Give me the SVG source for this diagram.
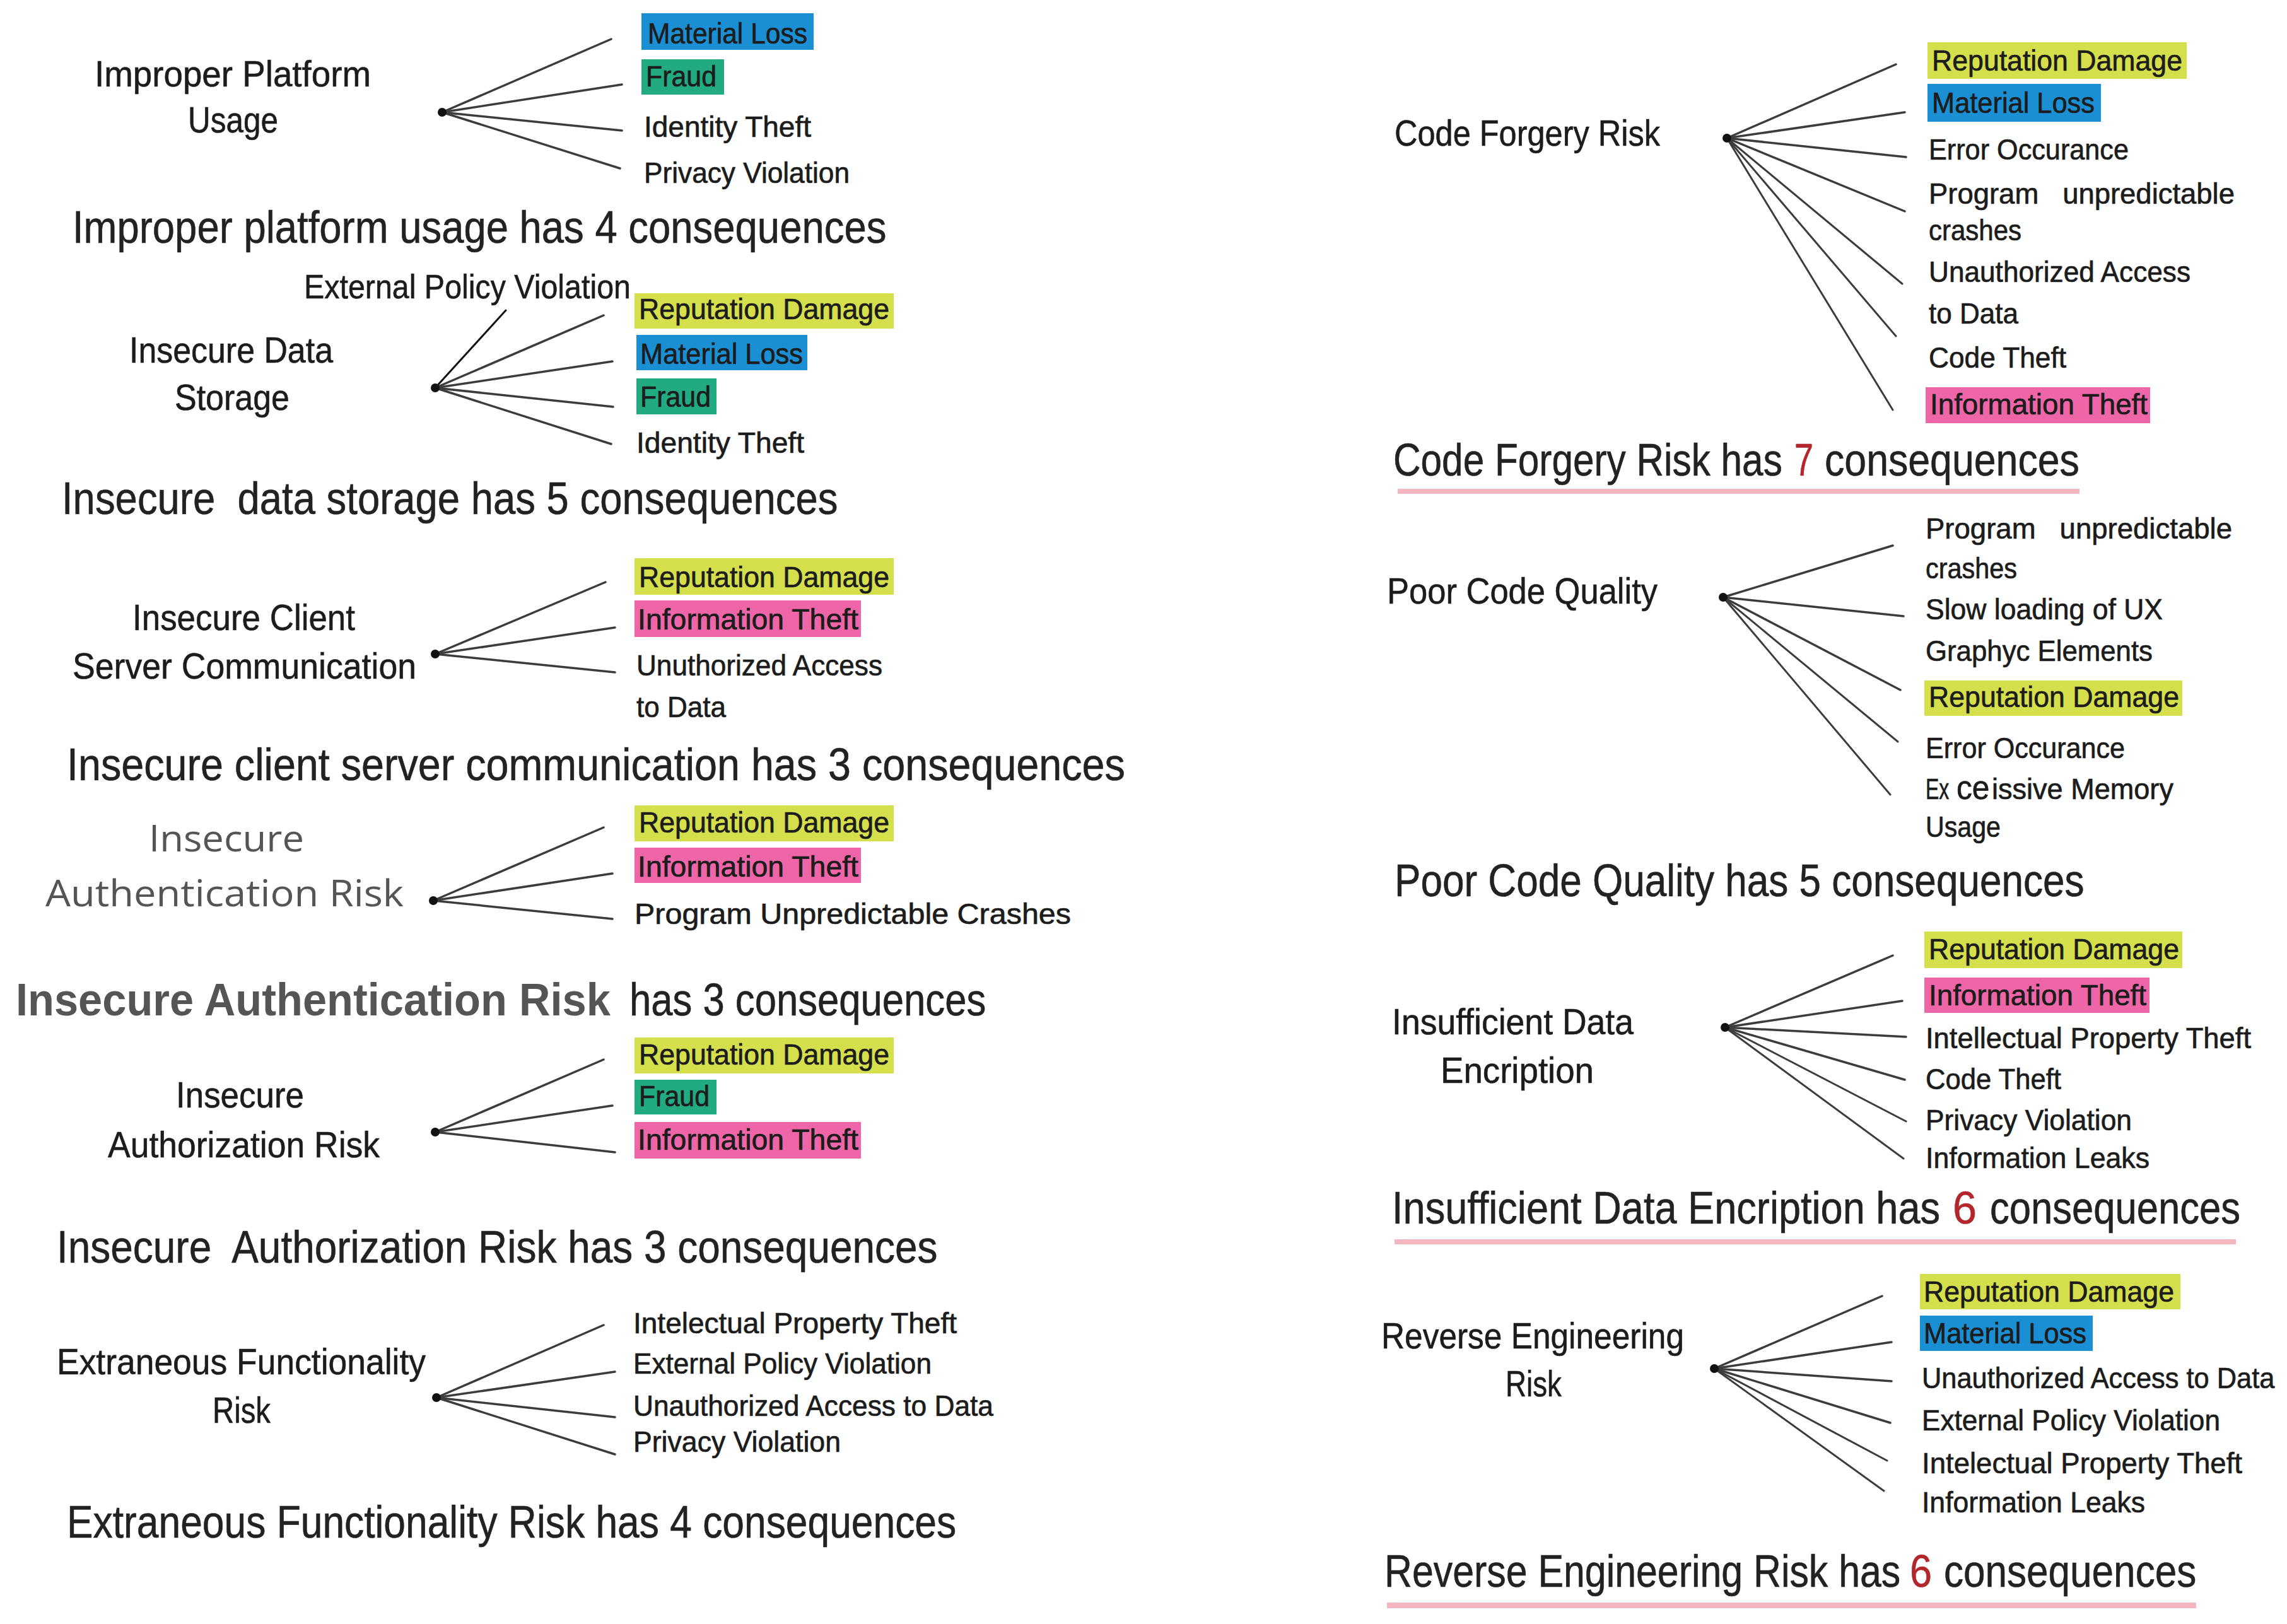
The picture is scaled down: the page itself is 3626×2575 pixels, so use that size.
<svg xmlns="http://www.w3.org/2000/svg" width="3626" height="2575" viewBox="0 0 3626 2575">
<style>
.lbl{font-family:"Liberation Sans",Arial,sans-serif;font-size:47px;fill:#1c1c1c;stroke:#1c1c1c;stroke-width:0.7}
.ttl{font-family:"Liberation Sans",Arial,sans-serif;font-size:58px;fill:#1c1c1c;stroke:#1c1c1c;stroke-width:0.6}
.ext{font-family:"Liberation Sans",Arial,sans-serif;font-size:54px;fill:#1c1c1c;stroke:#1c1c1c;stroke-width:0.6}
.cap{font-family:"Liberation Sans",Arial,sans-serif;font-size:72px;fill:#222;stroke:#222;stroke-width:0.6}
.gry{font-family:"Open Sans","Liberation Sans",sans-serif;font-size:58px;fill:#555}
.red{fill:#b3262b;stroke:#b3262b}
.bold{font-weight:bold;fill:#555;stroke:none}
.yel{fill:#d5df4c}
.blu{fill:#1a8fd4}
.grn{fill:#22aa80}
.pnk{fill:#ef66a8}
.ul{fill:#f4b7c2}
.hub{fill:#111}
#connectors line{stroke:#3c3c3c;stroke-width:3.5;stroke-linecap:round}
</style>
<rect width="3626" height="2575" fill="#fff"/>

<g id="connectors">
  <line x1="701" y1="178" x2="969" y2="62"/>
  <line x1="701" y1="178" x2="986" y2="134"/>
  <line x1="701" y1="178" x2="986" y2="207"/>
  <line x1="701" y1="178" x2="983" y2="267"/>
  <line x1="690" y1="615" x2="802" y2="492" style="stroke:#111;stroke-width:3"/>
  <line x1="690" y1="615" x2="957" y2="500"/>
  <line x1="690" y1="615" x2="971" y2="573"/>
  <line x1="690" y1="615" x2="972" y2="645"/>
  <line x1="690" y1="615" x2="969" y2="704"/>
  <line x1="690" y1="1037" x2="960" y2="923"/>
  <line x1="690" y1="1037" x2="975" y2="995"/>
  <line x1="690" y1="1037" x2="975" y2="1066"/>
  <line x1="687" y1="1428" x2="957" y2="1312"/>
  <line x1="687" y1="1428" x2="971" y2="1385"/>
  <line x1="687" y1="1428" x2="971" y2="1457"/>
  <line x1="690" y1="1795" x2="957" y2="1680"/>
  <line x1="690" y1="1795" x2="971" y2="1753"/>
  <line x1="690" y1="1795" x2="975" y2="1827"/>
  <line x1="692" y1="2216" x2="957" y2="2101"/>
  <line x1="692" y1="2216" x2="975" y2="2175"/>
  <line x1="692" y1="2216" x2="975" y2="2247"/>
  <line x1="692" y1="2216" x2="975" y2="2306"/>
  <line x1="2738" y1="219" x2="3006" y2="102"/>
  <line x1="2738" y1="219" x2="3020" y2="178"/>
  <line x1="2738" y1="219" x2="3022" y2="249"/>
  <line x1="2738" y1="219" x2="3020" y2="335"/>
  <line x1="2738" y1="219" x2="3016" y2="450" style="stroke-width:3"/>
  <line x1="2738" y1="219" x2="3006" y2="533" style="stroke-width:3"/>
  <line x1="2738" y1="219" x2="3001" y2="650" style="stroke-width:3"/>
  <line x1="2732" y1="947" x2="3001" y2="865"/>
  <line x1="2732" y1="947" x2="3018" y2="977"/>
  <line x1="2732" y1="947" x2="3013" y2="1094"/>
  <line x1="2732" y1="947" x2="3009" y2="1176" style="stroke-width:3"/>
  <line x1="2732" y1="947" x2="2997" y2="1260" style="stroke-width:3"/>
  <line x1="2735" y1="1629" x2="3001" y2="1515"/>
  <line x1="2735" y1="1629" x2="3016" y2="1587"/>
  <line x1="2735" y1="1629" x2="3022" y2="1644"/>
  <line x1="2735" y1="1629" x2="3020" y2="1712"/>
  <line x1="2735" y1="1629" x2="3022" y2="1778" style="stroke-width:3"/>
  <line x1="2735" y1="1629" x2="3018" y2="1837" style="stroke-width:3"/>
  <line x1="2718" y1="2170" x2="2984" y2="2055"/>
  <line x1="2718" y1="2170" x2="2999" y2="2128"/>
  <line x1="2718" y1="2170" x2="2999" y2="2190"/>
  <line x1="2718" y1="2170" x2="2997" y2="2256"/>
  <line x1="2718" y1="2170" x2="2992" y2="2316" style="stroke-width:3"/>
  <line x1="2718" y1="2170" x2="2987" y2="2364" style="stroke-width:3"/>
</g>

<g id="risk-improper-platform-usage">
  <text class="ttl" x="150" y="137" textLength="438" lengthAdjust="spacingAndGlyphs">Improper Platform</text>
  <text class="ttl" x="298" y="210" textLength="143" lengthAdjust="spacingAndGlyphs">Usage</text>
  <circle class="hub" cx="701" cy="178" r="7"/>
</g>
<g id="c1-material-loss"><rect class="blu" x="1017" y="21" width="273" height="58"/><text class="lbl" x="1027" y="69" textLength="253" lengthAdjust="spacingAndGlyphs">Material Loss</text></g>
<g id="c1-fraud"><rect class="grn" x="1017" y="94" width="131" height="56"/><text class="lbl" x="1024" y="137" textLength="112" lengthAdjust="spacingAndGlyphs">Fraud</text></g>
<g id="c1-identity-theft"><text class="lbl" x="1021" y="217" textLength="265" lengthAdjust="spacingAndGlyphs">Identity Theft</text></g>
<g id="c1-privacy-violation"><text class="lbl" x="1021" y="290" textLength="326" lengthAdjust="spacingAndGlyphs">Privacy Violation</text></g>
<g id="caption-1"><text class="cap" transform="translate(115,385) scale(0.881,1)">Improper platform usage has 4 consequences</text></g>

<g id="risk-insecure-data-storage">
  <text class="ttl" x="205" y="575" textLength="323" lengthAdjust="spacingAndGlyphs">Insecure Data</text>
  <text class="ttl" x="277" y="650" textLength="182" lengthAdjust="spacingAndGlyphs">Storage</text>
  <circle class="hub" cx="690" cy="615" r="7"/>
</g>
<g id="c2-external-policy-violation"><text class="ext" transform="translate(482,473) scale(0.896,1)">External Policy Violation</text></g>
<g id="c2-reputation-damage"><rect class="yel" x="1006" y="465" width="411" height="56"/><text class="lbl" x="1013" y="506" textLength="397" lengthAdjust="spacingAndGlyphs">Reputation Damage</text></g>
<g id="c2-material-loss"><rect class="blu" x="1009" y="531" width="271" height="56"/><text class="lbl" x="1015" y="577" textLength="258" lengthAdjust="spacingAndGlyphs">Material Loss</text></g>
<g id="c2-fraud"><rect class="grn" x="1009" y="600" width="127" height="57"/><text class="lbl" x="1015" y="645" textLength="112" lengthAdjust="spacingAndGlyphs">Fraud</text></g>
<g id="c2-identity-theft"><text class="lbl" x="1009" y="718" textLength="266" lengthAdjust="spacingAndGlyphs">Identity Theft</text></g>
<g id="caption-2"><text class="cap" transform="translate(98,815) scale(0.881,1)" xml:space="preserve">Insecure  data storage has 5 consequences</text></g>

<g id="risk-insecure-client-server">
  <text class="ttl" x="210" y="999" textLength="353" lengthAdjust="spacingAndGlyphs">Insecure Client</text>
  <text class="ttl" x="115" y="1076" textLength="545" lengthAdjust="spacingAndGlyphs">Server Communication</text>
  <circle class="hub" cx="690" cy="1037" r="7"/>
</g>
<g id="c3-reputation-damage"><rect class="yel" x="1006" y="885" width="411" height="58"/><text class="lbl" x="1013" y="931" textLength="397" lengthAdjust="spacingAndGlyphs">Reputation Damage</text></g>
<g id="c3-information-theft"><rect class="pnk" x="1006" y="952" width="359" height="58"/><text class="lbl" x="1011" y="998" textLength="350" lengthAdjust="spacingAndGlyphs">Information Theft</text></g>
<g id="c3-unauthorized-access">
  <text class="lbl" x="1009" y="1071" textLength="390" lengthAdjust="spacingAndGlyphs">Unuthorized Access</text>
  <text class="lbl" x="1009" y="1137" textLength="142" lengthAdjust="spacingAndGlyphs">to Data</text>
</g>
<g id="caption-3"><text class="cap" transform="translate(106,1237) scale(0.898,1)">Insecure client server communication has 3 consequences</text></g>

<g id="risk-insecure-authentication">
  <text class="gry" x="236" y="1350" textLength="246" lengthAdjust="spacingAndGlyphs">Insecure</text>
  <text class="gry" x="72" y="1437" textLength="568" lengthAdjust="spacingAndGlyphs">Authentication Risk</text>
  <circle class="hub" cx="687" cy="1428" r="7"/>
</g>
<g id="c4-reputation-damage"><rect class="yel" x="1006" y="1277" width="411" height="57"/><text class="lbl" x="1013" y="1320" textLength="397" lengthAdjust="spacingAndGlyphs">Reputation Damage</text></g>
<g id="c4-information-theft"><rect class="pnk" x="1006" y="1344" width="359" height="56"/><text class="lbl" x="1011" y="1390" textLength="350" lengthAdjust="spacingAndGlyphs">Information Theft</text></g>
<g id="c4-program-crashes"><text class="lbl" x="1006" y="1465" textLength="692" lengthAdjust="spacingAndGlyphs">Program Unpredictable Crashes</text></g>
<g id="caption-4">
  <text class="cap bold" transform="translate(25,1610) scale(0.953,1)">Insecure Authentication Risk</text>
  <text class="cap" transform="translate(998,1610) scale(0.856,1)">has 3 consequences</text>
</g>

<g id="risk-insecure-authorization">
  <text class="ttl" x="279" y="1756" textLength="203" lengthAdjust="spacingAndGlyphs">Insecure</text>
  <text class="ttl" x="171" y="1835" textLength="431" lengthAdjust="spacingAndGlyphs">Authorization Risk</text>
  <circle class="hub" cx="690" cy="1795" r="7"/>
</g>
<g id="c5-reputation-damage"><rect class="yel" x="1006" y="1645" width="411" height="57"/><text class="lbl" x="1013" y="1688" textLength="397" lengthAdjust="spacingAndGlyphs">Reputation Damage</text></g>
<g id="c5-fraud"><rect class="grn" x="1006" y="1712" width="130" height="55"/><text class="lbl" x="1013" y="1754" textLength="112" lengthAdjust="spacingAndGlyphs">Fraud</text></g>
<g id="c5-information-theft"><rect class="pnk" x="1006" y="1779" width="359" height="58"/><text class="lbl" x="1011" y="1823" textLength="350" lengthAdjust="spacingAndGlyphs">Information Theft</text></g>
<g id="caption-5"><text class="cap" transform="translate(90,2002) scale(0.888,1)" xml:space="preserve">Insecure  Authorization Risk has 3 consequences</text></g>

<g id="risk-extraneous-functionality">
  <text class="ttl" x="90" y="2179" textLength="585" lengthAdjust="spacingAndGlyphs">Extraneous Functionality</text>
  <text class="ttl" x="337" y="2256" textLength="92" lengthAdjust="spacingAndGlyphs">Risk</text>
  <circle class="hub" cx="692" cy="2216" r="7"/>
</g>
<g id="c6-ip-theft"><text class="lbl" x="1004" y="2114" textLength="513" lengthAdjust="spacingAndGlyphs">Intelectual Property Theft</text></g>
<g id="c6-external-policy"><text class="lbl" x="1004" y="2178" textLength="473" lengthAdjust="spacingAndGlyphs">External Policy Violation</text></g>
<g id="c6-unauthorized-access"><text class="lbl" x="1004" y="2245" textLength="571" lengthAdjust="spacingAndGlyphs">Unauthorized Access to Data</text></g>
<g id="c6-privacy-violation"><text class="lbl" x="1004" y="2302" textLength="329" lengthAdjust="spacingAndGlyphs">Privacy Violation</text></g>
<g id="caption-6"><text class="cap" transform="translate(106,2438) scale(0.866,1)">Extraneous Functionality Risk has 4 consequences</text></g>

<g id="risk-code-forgery">
  <text class="ttl" x="2211" y="231" textLength="421" lengthAdjust="spacingAndGlyphs">Code Forgery Risk</text>
  <circle class="hub" cx="2738" cy="219" r="7"/>
</g>
<g id="c7-reputation-damage"><rect class="yel" x="3056" y="67" width="411" height="58"/><text class="lbl" x="3063" y="112" textLength="397" lengthAdjust="spacingAndGlyphs">Reputation Damage</text></g>
<g id="c7-material-loss"><rect class="blu" x="3056" y="133" width="275" height="60"/><text class="lbl" x="3063" y="179" textLength="258" lengthAdjust="spacingAndGlyphs">Material Loss</text></g>
<g id="c7-error-occurance"><text class="lbl" x="3058" y="253" textLength="317" lengthAdjust="spacingAndGlyphs">Error Occurance</text></g>
<g id="c7-program-crashes">
  <text class="lbl" x="3058" y="323" textLength="485" lengthAdjust="spacingAndGlyphs" xml:space="preserve">Program   unpredictable</text>
  <text class="lbl" x="3058" y="381" textLength="147" lengthAdjust="spacingAndGlyphs">crashes</text>
</g>
<g id="c7-unauthorized-access">
  <text class="lbl" x="3058" y="447" textLength="415" lengthAdjust="spacingAndGlyphs">Unauthorized Access</text>
  <text class="lbl" x="3058" y="513" textLength="142" lengthAdjust="spacingAndGlyphs">to Data</text>
</g>
<g id="c7-code-theft"><text class="lbl" x="3058" y="583" textLength="218" lengthAdjust="spacingAndGlyphs">Code Theft</text></g>
<g id="c7-information-theft"><rect class="pnk" x="3053" y="614" width="356" height="57"/><text class="lbl" x="3060" y="657" textLength="345" lengthAdjust="spacingAndGlyphs">Information Theft</text></g>
<g id="caption-7">
  <text class="cap" transform="translate(2209,754) scale(0.838,1)">Code Forgery Risk has</text>
  <text class="cap red" transform="translate(2845,754) scale(0.75,1)">7</text>
  <text class="cap" transform="translate(2893,754) scale(0.870,1)">consequences</text>
  <rect class="ul" x="2216" y="775" width="1081" height="8"/>
</g>

<g id="risk-poor-code-quality">
  <text class="ttl" x="2199" y="957" textLength="429" lengthAdjust="spacingAndGlyphs">Poor Code Quality</text>
  <circle class="hub" cx="2732" cy="947" r="7"/>
</g>
<g id="c8-program-crashes">
  <text class="lbl" x="3053" y="854" textLength="486" lengthAdjust="spacingAndGlyphs" xml:space="preserve">Program   unpredictable</text>
  <text class="lbl" x="3053" y="917" textLength="145" lengthAdjust="spacingAndGlyphs">crashes</text>
</g>
<g id="c8-slow-loading">
  <text class="lbl" x="3053" y="982" textLength="376" lengthAdjust="spacingAndGlyphs">Slow loading of UX</text>
  <text class="lbl" x="3053" y="1048" textLength="360" lengthAdjust="spacingAndGlyphs">Graphyc Elements</text>
</g>
<g id="c8-reputation-damage"><rect class="yel" x="3051" y="1079" width="409" height="56"/><text class="lbl" x="3058" y="1121" textLength="397" lengthAdjust="spacingAndGlyphs">Reputation Damage</text></g>
<g id="c8-error-occurance"><text class="lbl" x="3053" y="1202" textLength="316" lengthAdjust="spacingAndGlyphs">Error Occurance</text></g>
<g id="c8-excessive-memory">
  <text class="lbl" transform="translate(3053,1267) scale(0.68,1)">Ex</text>
  <text class="lbl" transform="translate(3102,1267) scale(0.92,1)" style="font-size:54px">ce</text>
  <text class="lbl" transform="translate(3158,1267) scale(0.959,1)">issive Memory</text>
  <text class="lbl" x="3053" y="1327" textLength="119" lengthAdjust="spacingAndGlyphs">Usage</text>
</g>
<g id="caption-8"><text class="cap" transform="translate(2211,1421) scale(0.862,1)">Poor Code Quality has 5 consequences</text></g>

<g id="risk-insufficient-encryption">
  <text class="ttl" x="2207" y="1640" textLength="383" lengthAdjust="spacingAndGlyphs">Insufficient Data</text>
  <text class="ttl" x="2284" y="1717" textLength="243" lengthAdjust="spacingAndGlyphs">Encription</text>
  <circle class="hub" cx="2735" cy="1629" r="7"/>
</g>
<g id="c9-reputation-damage"><rect class="yel" x="3051" y="1477" width="409" height="58"/><text class="lbl" x="3058" y="1521" textLength="397" lengthAdjust="spacingAndGlyphs">Reputation Damage</text></g>
<g id="c9-information-theft"><rect class="pnk" x="3051" y="1550" width="357" height="56"/><text class="lbl" x="3058" y="1594" textLength="345" lengthAdjust="spacingAndGlyphs">Information Theft</text></g>
<g id="c9-ip-theft"><text class="lbl" x="3053" y="1662" textLength="516" lengthAdjust="spacingAndGlyphs">Intellectual Property Theft</text></g>
<g id="c9-code-theft"><text class="lbl" x="3053" y="1727" textLength="215" lengthAdjust="spacingAndGlyphs">Code Theft</text></g>
<g id="c9-privacy-violation"><text class="lbl" x="3053" y="1792" textLength="327" lengthAdjust="spacingAndGlyphs">Privacy Violation</text></g>
<g id="c9-information-leaks"><text class="lbl" x="3053" y="1852" textLength="355" lengthAdjust="spacingAndGlyphs">Information Leaks</text></g>
<g id="caption-9">
  <text class="cap" transform="translate(2207,1940) scale(0.877,1)">Insufficient Data Encription has</text>
  <text class="cap red" transform="translate(3096,1940) scale(0.95,1)">6</text>
  <text class="cap" transform="translate(3155,1940) scale(0.855,1)">consequences</text>
  <rect class="ul" x="2211" y="1965" width="1334" height="8"/>
</g>

<g id="risk-reverse-engineering">
  <text class="ttl" x="2190" y="2138" textLength="480" lengthAdjust="spacingAndGlyphs">Reverse Engineering</text>
  <text class="ttl" x="2387" y="2214" textLength="89" lengthAdjust="spacingAndGlyphs">Risk</text>
  <circle class="hub" cx="2718" cy="2170" r="7"/>
</g>
<g id="c10-reputation-damage"><rect class="yel" x="3044" y="2020" width="413" height="56"/><text class="lbl" x="3050" y="2064" textLength="397" lengthAdjust="spacingAndGlyphs">Reputation Damage</text></g>
<g id="c10-material-loss"><rect class="blu" x="3044" y="2086" width="274" height="56"/><text class="lbl" x="3050" y="2130" textLength="258" lengthAdjust="spacingAndGlyphs">Material Loss</text></g>
<g id="c10-unauthorized-access"><text class="lbl" transform="translate(3047,2201) scale(0.923,1)">Unauthorized Access to Data</text></g>
<g id="c10-external-policy"><text class="lbl" x="3047" y="2268" textLength="473" lengthAdjust="spacingAndGlyphs">External Policy Violation</text></g>
<g id="c10-ip-theft"><text class="lbl" x="3047" y="2336" textLength="508" lengthAdjust="spacingAndGlyphs">Intelectual Property Theft</text></g>
<g id="c10-information-leaks"><text class="lbl" x="3047" y="2398" textLength="354" lengthAdjust="spacingAndGlyphs">Information Leaks</text></g>
<g id="caption-10">
  <text class="cap" transform="translate(2195,2516) scale(0.845,1)">Reverse Engineering Risk has</text>
  <text class="cap red" transform="translate(3028,2516) scale(0.875,1)">6</text>
  <text class="cap" transform="translate(3082,2516) scale(0.862,1)">consequences</text>
  <rect class="ul" x="2199" y="2541" width="1283" height="9"/>
</g>
</svg>
